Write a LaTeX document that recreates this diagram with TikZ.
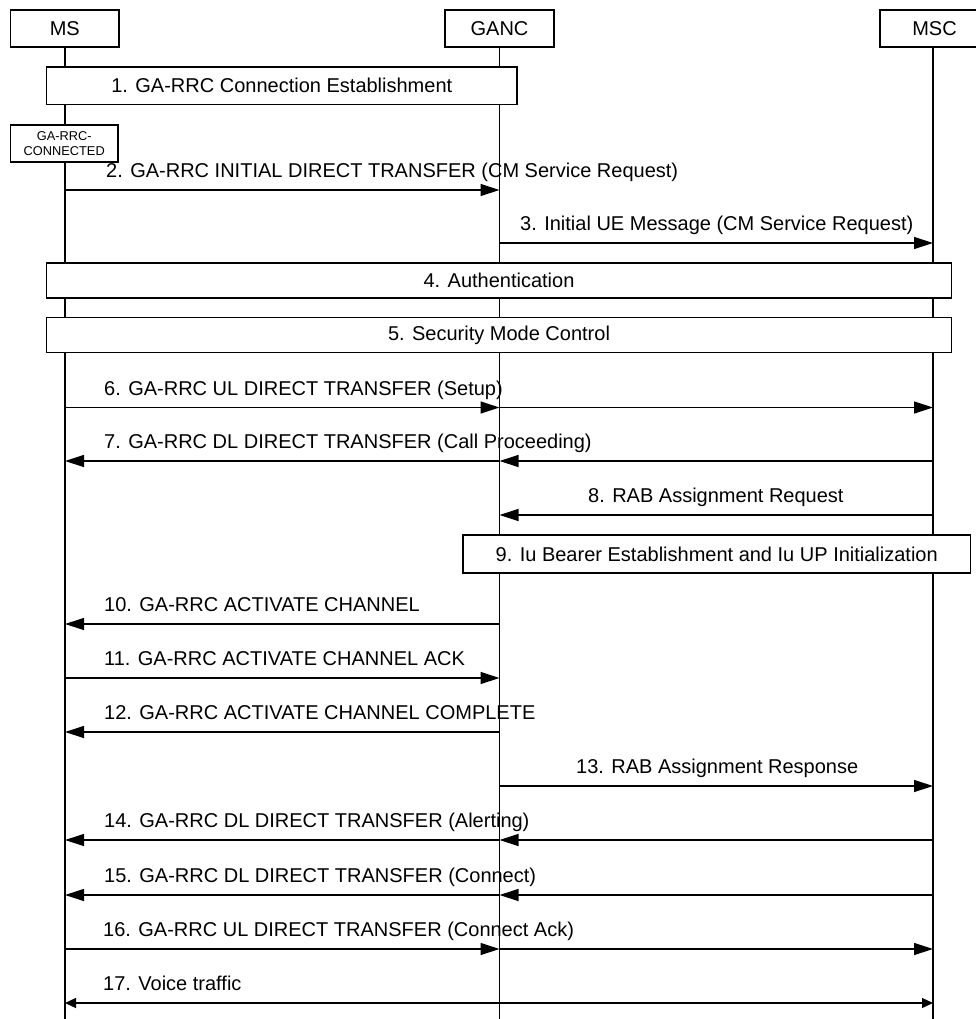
\documentclass[tikz,border=0pt]{standalone}
\usepackage{fontspec}
\setmainfont{Liberation Sans}
\usetikzlibrary{arrows.meta}
\begin{document}
\begin{tikzpicture}[x=1pt,y=-1pt,
  lw/.style={line width=1.2pt},
  every node/.style={font=\fontsize{20}{24}\selectfont},
  hdr/.style={draw, lw, fill=white, inner sep=0pt, minimum width=109pt, minimum height=37pt},
  phase/.style={draw, lw, fill=white, inner sep=0pt},
  lifeline/.style={lw},
  msg/.style={lw, -{Triangle[length=19pt,width=12pt]}},
  bimsg/.style={lw, {Triangle[length=11pt,width=10pt]}-{Triangle[length=11pt,width=10pt]}},
  lbl/.style={anchor=base west, inner sep=0pt}
]
\useasboundingbox (0,0) rectangle (975,1019);

% lifelines
\coordinate (msT) at (65,47);  \coordinate (msB) at (65,1019);
\coordinate (gaT) at (499.5,47); \coordinate (gaB) at (499.5,1019);
\coordinate (mscT) at (933,47); \coordinate (mscB) at (933,1019);
\draw[lifeline] (msT) -- (msB);
\draw[lifeline] (gaT) -- (gaB);
\draw[lifeline] (mscT) -- (mscB);

% headers
\node[hdr, minimum width=108.5pt] (MS) at (64.75,28.5) {MS};
\node[hdr] (GANC) at (499.5,28.5) {GANC};
\node[hdr] (MSC) at (934.5,28.5) {MSC};

% phase boxes
\node[phase, minimum width=470.4pt, minimum height=37.5pt] (b1) at (281.8,85.8) {1. GA-RRC Connection Establishment};
\node[phase, minimum width=107.5pt, minimum height=37pt, align=center,
      font=\fontsize{12.8}{15}\selectfont] (conn) at (64.25,143.5) {GA-RRC-\\CONNECTED};
\node[phase, minimum width=905pt, minimum height=35pt] (b4) at (499,280.5) {4. Authentication};
\node[phase, minimum width=905pt, minimum height=35pt] (b5) at (499,335) {5. Security Mode Control};
\node[phase, minimum width=507.5pt, minimum height=38pt] (b9) at (716.75,554) {9. Iu Bearer Establishment and Iu UP Initialization};

% message anchor points
\foreach \n/\y in {2/190,3/243,6/407.5,7/461,8/515,10/624,11/678,12/732,13/786,14/840,15/895,16/949,17/1003}{
  \coordinate (ms\n) at (65,\y);
  \coordinate (ga\n) at (499.5,\y);
  \coordinate (msc\n) at (933,\y);
}

% messages
\draw[msg] (ms2) -- (ga2);
\node[lbl] (l2) at (106,177.5) {2. GA-RRC INITIAL DIRECT TRANSFER (CM Service Request)};
\draw[msg] (ga3) -- (msc3);
\node[lbl] (l3) at (520,230.5) {3. Initial UE Message (CM Service Request)};
\draw[msg] (ms6) -- (ga6);
\draw[msg] (ga6) -- (msc6);
\node[lbl] (l6) at (104,395) {6. GA-RRC UL DIRECT TRANSFER (Setup)};
\draw[msg] (msc7) -- (ga7);
\draw[msg] (ga7) -- (ms7);
\node[lbl] (l7) at (104,448.5) {7. GA-RRC DL DIRECT TRANSFER (Call Proceeding)};
\draw[msg] (msc8) -- (ga8);
\node[lbl] (l8) at (588,502.5) {8. RAB Assignment Request};
\draw[msg] (ga10) -- (ms10);
\node[lbl] (l10) at (104,611.5) {10. GA-RRC ACTIVATE CHANNEL};
\draw[msg] (ms11) -- (ga11);
\node[lbl] (l11) at (104,665.5) {11. GA-RRC ACTIVATE CHANNEL ACK};
\draw[msg] (ga12) -- (ms12);
\node[lbl] (l12) at (104,719.5) {12. GA-RRC ACTIVATE CHANNEL COMPLETE};
\draw[msg] (ga13) -- (msc13);
\node[lbl] (l13) at (576,773.5) {13. RAB Assignment Response};
\draw[msg] (msc14) -- (ga14);
\draw[msg] (ga14) -- (ms14);
\node[lbl] (l14) at (104,827.5) {14. GA-RRC DL DIRECT TRANSFER (Alerting)};
\draw[msg] (msc15) -- (ga15);
\draw[msg] (ga15) -- (ms15);
\node[lbl] (l15) at (104,882.5) {15. GA-RRC DL DIRECT TRANSFER (Connect)};
\draw[msg] (ms16) -- (ga16);
\draw[msg] (ga16) -- (msc16);
\node[lbl] (l16) at (103,936.5) {16. GA-RRC UL DIRECT TRANSFER (Connect Ack)};
\draw[bimsg] (ms17) -- (msc17);
\node[lbl] (l17) at (103,990.5) {17. Voice traffic};
\end{tikzpicture}
\end{document}
